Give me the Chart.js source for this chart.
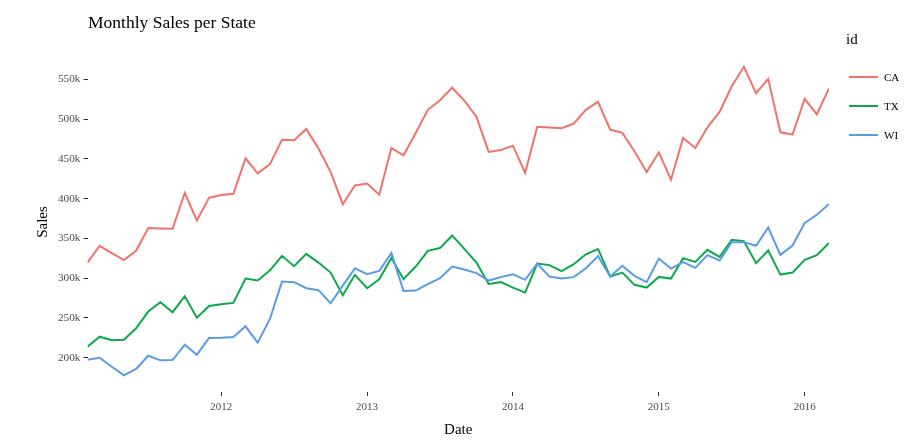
<!DOCTYPE html>
<html>
<head>
<meta charset="utf-8">
<script src="https://cdn.jsdelivr.net/npm/chart.js@4"></script>
<style>
    body { margin: 0; background: #fff; }
    #wrap { position: relative; width: 915px; height: 445px; font-family: "Liberation Serif", serif; }
    #title { position: absolute; left: 88px; top: 12px; font-size: 17.5px; line-height: 20px; color: #000; white-space: nowrap; }
    #legend { position: absolute; left: 846px; top: 30px; color: #000; }
    #legend .head { font-size: 15px; line-height: 18px; margin-bottom: 14px; }
    #legend .item { height: 29px; display: flex; align-items: center; margin-left: 3px; }
    #legend .key { display: inline-block; width: 29px; height: 2px; margin-right: 6px; }
    #legend .lab { font-size: 11px; }
</style>
</head>
<body>
<div id="wrap">
    <canvas id="chart" width="915" height="445"></canvas>
    <div id="title">Monthly Sales per State</div>
    <div id="legend"></div>
</div>
<script>
// mesi (fine mese), Gen 2011 - Feb 2016
const months = [
    '2011-01','2011-02','2011-03','2011-04','2011-05','2011-06','2011-07','2011-08','2011-09','2011-10','2011-11','2011-12',
    '2012-01','2012-02','2012-03','2012-04','2012-05','2012-06','2012-07','2012-08','2012-09','2012-10','2012-11','2012-12',
    '2013-01','2013-02','2013-03','2013-04','2013-05','2013-06','2013-07','2013-08','2013-09','2013-10','2013-11','2013-12',
    '2014-01','2014-02','2014-03','2014-04','2014-05','2014-06','2014-07','2014-08','2014-09','2014-10','2014-11','2014-12',
    '2015-01','2015-02','2015-03','2015-04','2015-05','2015-06','2015-07','2015-08','2015-09','2015-10','2015-11','2015-12',
    '2016-01','2016-02'
];

// vendite in migliaia
const salesCA = [
    319.6, 340.7, 331.5, 322.7, 334.4, 363.0, 362.5, 362.0, 407.0, 372.5, 401.0, 404.5,
    406.0, 450.6, 431.7, 443.0, 474.0, 473.3, 487.6, 463.0, 433.5, 393.0, 416.6, 419.0,
    405.0, 463.7, 454.4, 482.6, 511.6, 523.7, 539.3, 523.3, 502.8, 458.7, 461.2, 466.6,
    432.2, 490.2, 489.3, 488.4, 494.3, 511.6, 521.7, 486.8, 482.6, 459.5, 433.5, 458.2,
    423.8, 476.3, 463.7, 489.7, 509.0, 541.3, 565.7, 532.5, 550.6, 483.4, 480.5, 525.4,
    506.0, 538.4
];
const salesTX = [
    213.9, 226.4, 221.9, 222.7, 237.0, 258.0, 269.8, 257.2, 277.3, 250.4, 265.1, 267.2,
    268.9, 299.5, 297.0, 309.6, 328.1, 315.1, 330.6, 319.6, 307.0, 278.6, 304.2, 287.4,
    298.7, 325.2, 298.7, 314.6, 334.4, 337.8, 353.7, 336.9, 319.6, 292.8, 295.0, 288.2,
    281.9, 318.4, 316.4, 308.8, 317.6, 330.0, 336.7, 302.0, 307.0, 291.6, 288.2, 301.6,
    299.5, 325.2, 320.5, 335.6, 326.8, 348.2, 346.6, 318.9, 334.8, 304.5, 307.0, 323.0,
    329.0, 344.1
];
const salesWI = [
    197.5, 200.0, 188.7, 177.8, 185.8, 202.5, 196.7, 197.1, 216.4, 203.8, 224.8, 225.2,
    226.1, 239.5, 218.9, 248.4, 295.7, 295.0, 287.4, 284.9, 268.5, 290.7, 312.3, 305.0,
    309.2, 331.5, 284.0, 284.4, 292.4, 300.0, 314.6, 310.8, 306.3, 297.0, 301.3, 305.0,
    297.9, 318.4, 302.0, 299.5, 301.3, 312.5, 327.6, 302.0, 315.5, 302.9, 295.0, 324.7,
    312.1, 320.1, 313.0, 329.0, 322.2, 345.3, 345.3, 340.7, 363.7, 329.3, 341.1, 369.3,
    379.7, 393.2
];

const yearTicks = [2012, 2013, 2014, 2015, 2016];
const salesTicks = [200, 250, 300, 350, 400, 450, 500, 550];

const states = [
    { id: 'CA', data: salesCA, color: '#F2726A' },
    { id: 'TX', data: salesTX, color: '#0CA94A' },
    { id: 'WI', data: salesWI, color: '#5A9BE8' }
];

// data a fine mese -> anno decimale
function monthToYear(m) {
    const [y, mo] = m.split('-').map(Number);
    return y + mo / 12;
}

Chart.defaults.font.family = '"Liberation Serif", serif';

const datasets = states.map((s, i) => ({
    label: s.id,
    data: months.map((m, k) => ({ x: monthToYear(m), y: s.data[k] })),
    borderColor: s.color,
    backgroundColor: s.color,
    borderWidth: 2,
    pointRadius: 0,
    tension: 0,
    fill: false,
    order: states.length - i
}));

new Chart(document.getElementById('chart'), {
    type: 'line',
    data: { datasets },
    options: {
        responsive: false,
        animation: false,
        layout: { padding: { left: 0, right: 86, top: 52, bottom: 0 } },
        plugins: { legend: { display: false }, title: { display: false }, tooltip: { enabled: false } },
        scales: {
            x: {
                type: 'linear',
                min: monthToYear(months[0]),
                max: monthToYear(months[months.length - 1]),
                afterBuildTicks: s => { s.ticks = yearTicks.map(v => ({ value: v })); },
                afterFit: s => { s.height = 53; },
                border: { display: false },
                grid: { drawOnChartArea: false, drawTicks: true, tickLength: 4, color: '#333' },
                ticks: { color: '#4d4d4d', font: { size: 11 }, padding: 5, maxRotation: 0, callback: v => String(v) },
                title: { display: true, text: 'Date', color: '#000', font: { size: 15 }, padding: { top: 0, bottom: 6 } }
            },
            y: {
                min: 156.9,
                max: 584.3,
                afterBuildTicks: s => { s.ticks = salesTicks.map(v => ({ value: v })); },
                afterFit: s => { s.width = 87.5; },
                border: { display: false },
                grid: { drawOnChartArea: false, drawTicks: true, tickLength: 4, color: '#333' },
                ticks: { color: '#4d4d4d', font: { size: 11.3 }, padding: 3, callback: v => v + 'k' },
                title: { display: true, text: 'Sales', color: '#000', font: { size: 15 }, padding: { top: 34, bottom: 0 } }
            }
        }
    }
});

// legenda custom
const legendDiv = document.getElementById('legend');
legendDiv.innerHTML = '<div class="head">id</div>' + states.map(s => `
    <div class="item"><span class="key" style="background:${s.color}"></span><span class="lab">${s.id}</span></div>
`).join('');
</script>
</body>
</html>
